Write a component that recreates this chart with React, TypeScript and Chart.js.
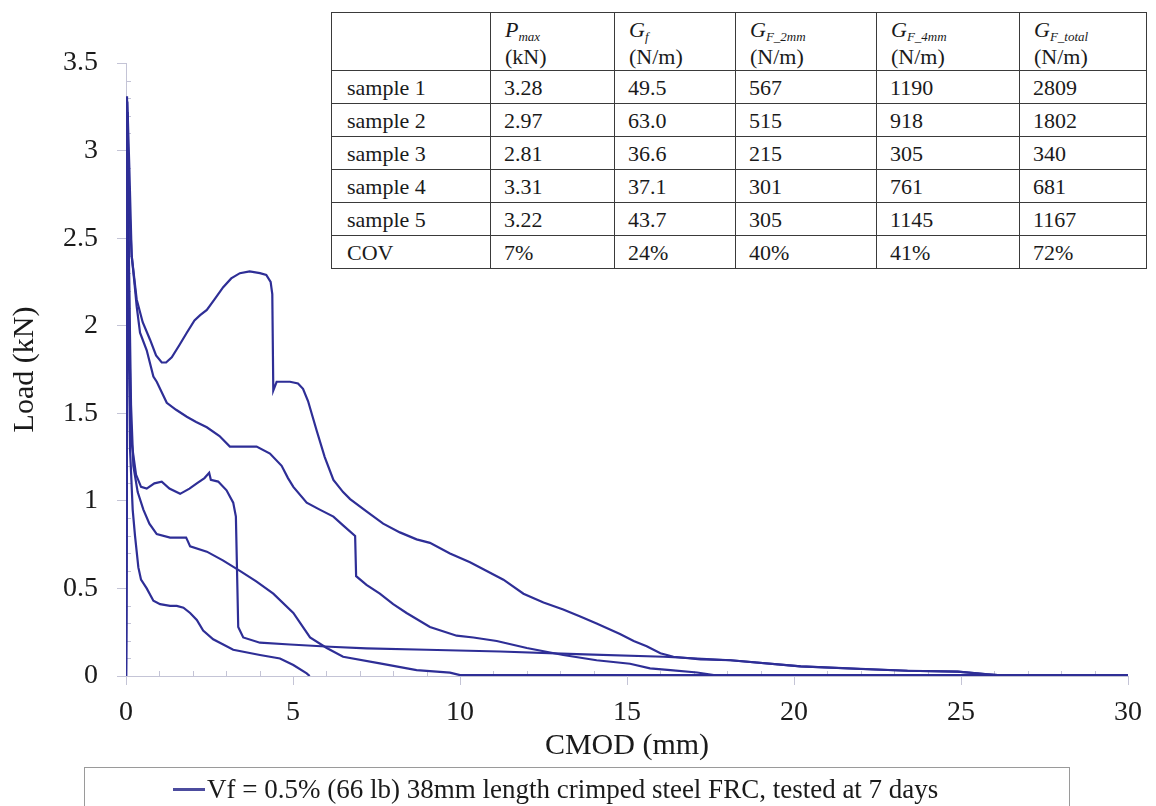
import React, { useEffect, useRef } from "react";
import { Chart, registerables } from "chart.js";

Chart.register(...registerables);

// ---------- data (CMOD in mm, load in kN) ----------
const sample1X = [0, 0.04, 0.1, 0.17, 0.32, 0.5, 0.72, 0.9, 1.07, 1.2, 1.37, 1.6, 1.82, 2.05, 2.22, 2.42, 2.65, 2.91, 3.15, 3.41, 3.7, 4.01, 4.2, 4.33, 4.38, 4.41, 4.51, 4.91, 5.15, 5.3, 5.45, 5.71, 5.95, 6.21, 6.5, 6.71, 7.2, 7.7, 8.2, 8.7, 9.1, 9.7, 10.3, 10.7, 11.3, 11.9, 12.5, 13.09, 13.6, 14.09, 14.79, 15.2, 15.59, 16.0, 16.39, 17.2, 18.1, 20.2, 23.4, 24.9, 25.8, 26.5];
const sample1Y = [0, 3.28, 2.9, 2.4, 2.15, 2.02, 1.92, 1.83, 1.79, 1.79, 1.82, 1.89, 1.96, 2.03, 2.06, 2.09, 2.15, 2.22, 2.27, 2.3, 2.31, 2.3, 2.29, 2.25, 2.18, 1.63, 1.68, 1.68, 1.67, 1.64, 1.57, 1.4, 1.25, 1.12, 1.05, 1.01, 0.94, 0.87, 0.82, 0.78, 0.76, 0.7, 0.65, 0.61, 0.55, 0.47, 0.42, 0.38, 0.34, 0.3, 0.24, 0.2, 0.17, 0.13, 0.11, 0.095, 0.09, 0.055, 0.03, 0.025, 0.01, 0];

const sample2X = [0, 0.05, 0.12, 0.17, 0.25, 0.32, 0.42, 0.62, 0.82, 0.92, 1.22, 1.5, 1.82, 2.1, 2.42, 2.8, 3.11, 3.5, 3.91, 4.31, 4.66, 4.85, 5.01, 5.41, 5.8, 6.21, 6.5, 6.86, 6.89, 7.2, 7.6, 8.0, 8.4, 9.1, 9.9, 10.4, 11.1, 12.0, 13.09, 14.09, 15.09, 15.69, 16.3, 17.1, 17.8];
const sample2Y = [0, 2.97, 2.6, 2.4, 2.25, 2.11, 1.96, 1.86, 1.71, 1.68, 1.56, 1.52, 1.48, 1.45, 1.42, 1.37, 1.31, 1.31, 1.31, 1.27, 1.2, 1.13, 1.08, 0.99, 0.95, 0.91, 0.86, 0.8, 0.57, 0.52, 0.47, 0.41, 0.36, 0.28, 0.23, 0.22, 0.2, 0.16, 0.12, 0.09, 0.07, 0.044, 0.034, 0.02, 0];

const sample3X = [0, 0.05, 0.09, 0.12, 0.2, 0.27, 0.37, 0.45, 0.62, 0.82, 1.02, 1.32, 1.52, 1.72, 1.92, 2.12, 2.31, 2.61, 2.81, 3.21, 4.01, 4.61, 5.01, 5.41, 5.5];
const sample3Y = [0, 2.81, 1.9, 1.3, 0.95, 0.8, 0.62, 0.55, 0.5, 0.43, 0.41, 0.4, 0.4, 0.39, 0.36, 0.32, 0.26, 0.21, 0.19, 0.15, 0.12, 0.1, 0.063, 0.015, 0];

const sample4X = [0, 0.03, 0.1, 0.15, 0.22, 0.35, 0.52, 0.7, 0.92, 1.32, 1.8, 1.85, 1.92, 2.42, 2.9, 3.41, 3.9, 4.41, 5.01, 5.51, 6.01, 6.5, 7.6, 8.7, 9.7, 10.0, 30];
const sample4Y = [0, 3.31, 2.2, 1.55, 1.2, 1.05, 0.95, 0.87, 0.81, 0.79, 0.79, 0.77, 0.74, 0.71, 0.66, 0.6, 0.54, 0.47, 0.36, 0.22, 0.16, 0.11, 0.072, 0.034, 0.019, 0.005, 0.005];

const sample5X = [0, 0.05, 0.1, 0.14, 0.17, 0.3, 0.45, 0.62, 0.85, 1.07, 1.3, 1.62, 1.9, 2.12, 2.35, 2.49, 2.54, 2.76, 3.01, 3.21, 3.29, 3.36, 3.51, 4.01, 4.91, 6.11, 7.2, 9.0, 11.2, 13.5, 16.1, 18.1, 20.2, 22.0, 23.4, 24.9, 25.8, 26.5];
const sample5Y = [0, 3.22, 2.0, 1.45, 1.33, 1.15, 1.08, 1.07, 1.1, 1.11, 1.07, 1.04, 1.07, 1.1, 1.13, 1.16, 1.12, 1.11, 1.06, 0.99, 0.91, 0.28, 0.22, 0.19, 0.18, 0.167, 0.158, 0.15, 0.14, 0.125, 0.11, 0.09, 0.055, 0.04, 0.03, 0.025, 0.01, 0];

const sampleNames = ["sample 1", "sample 2", "sample 3", "sample 4", "sample 5"];
const legendLabel = "Vf = 0.5% (66 lb) 38mm length crimped steel FRC, tested at 7 days";
const xTitle = "CMOD (mm)";
const yTitle = "Load (kN)";

// table values
const tableRowLabels = ["sample 1", "sample 2", "sample 3", "sample 4", "sample 5", "COV"];
const pmaxCol = ["3.28", "2.97", "2.81", "3.31", "3.22", "7%"];
const gfCol = ["49.5", "63.0", "36.6", "37.1", "43.7", "24%"];
const gf2Col = ["567", "515", "215", "301", "305", "40%"];
const gf4Col = ["1190", "918", "305", "761", "1145", "41%"];
const gfTotalCol = ["2809", "1802", "340", "681", "1167", "72%"];

// ---------- styles ----------
const SERIF = '"Liberation Serif", "Times New Roman", serif';
const LINE_COLOR = "#2e2e96";
const AXIS_COLOR = "#c4c4d6";
const TEXT_COLOR = "#1a1a1a";
const colWidths = [159, 124, 121, 141, 143, 127];

function HeaderCell({ main, sub, unit }: { main: string; sub: string; unit: string }) {
  return (
    <div>
      <div style={{ height: 27 }}>
        <i>{main}</i>
        <i style={{ fontSize: 13, position: "relative", top: 4 }}>{sub}</i>
      </div>
      <div style={{ height: 27 }}>{unit}</div>
    </div>
  );
}

export default function App() {
  const ref = useRef<HTMLCanvasElement>(null);

  useEffect(() => {
    if (!ref.current) return;
    const pairs = [
      [sample1X, sample1Y],
      [sample2X, sample2Y],
      [sample3X, sample3Y],
      [sample4X, sample4Y],
      [sample5X, sample5Y],
    ];
    const datasets = pairs.map(([xs, ys], i) => ({
      label: sampleNames[i],
      data: xs.map((x, j) => ({ x, y: ys[j] })),
      borderColor: LINE_COLOR,
      backgroundColor: LINE_COLOR,
      borderWidth: 2.2,
      pointRadius: 0,
      tension: 0,
      fill: false,
    }));

    const minorTicks = {
      id: "minorTicks",
      beforeDatasetsDraw(chart: any) {
        const { ctx } = chart;
        const x = chart.scales.x;
        const y = chart.scales.y;
        ctx.save();
        ctx.strokeStyle = AXIS_COLOR;
        ctx.lineWidth = 1;
        ctx.beginPath();
        for (let v = 0; v <= 30; v += 1) {
          if (v % 5 === 0) continue;
          const px = Math.round(x.getPixelForValue(v)) + 0.5;
          ctx.moveTo(px, y.bottom);
          ctx.lineTo(px, y.bottom - 5);
        }
        for (let k = 0; k <= 35; k++) {
          if (k % 5 === 0) continue;
          const py = Math.round(y.getPixelForValue(k / 10)) + 0.5;
          ctx.moveTo(x.left, py);
          ctx.lineTo(x.left + 5, py);
        }
        ctx.stroke();
        ctx.restore();
      },
    };

    const chart = new Chart(ref.current, {
      type: "line",
      data: { datasets },
      options: {
        animation: false,
        responsive: false,
        devicePixelRatio: 1,
        layout: { padding: { left: 7, top: 63, right: 28, bottom: 42 } },
        plugins: { legend: { display: false }, tooltip: { enabled: false } },
        scales: {
          x: {
            type: "linear",
            min: 0,
            max: 30,
            ticks: {
              stepSize: 5,
              color: TEXT_COLOR,
              font: { family: SERIF, size: 28 },
              padding: 11,
              maxRotation: 0,
              callback: (v: any) => String(Number(v)),
            },
            grid: { drawOnChartArea: false, tickLength: 9, color: AXIS_COLOR },
            border: { color: AXIS_COLOR, width: 1 },
            title: {
              display: true,
              text: xTitle,
              color: TEXT_COLOR,
              font: { family: SERIF, size: 30 },
              padding: { top: 0, bottom: 0 },
            },
            afterFit(s: any) {
              s.height = 88;
            },
          },
          y: {
            type: "linear",
            min: 0,
            max: 3.5,
            ticks: {
              stepSize: 0.5,
              color: TEXT_COLOR,
              font: { family: SERIF, size: 28 },
              padding: 19,
              callback: (v: any) => String(Number(v)),
            },
            grid: { drawOnChartArea: false, tickLength: 9, color: AXIS_COLOR },
            border: { color: AXIS_COLOR, width: 1 },
            title: {
              display: true,
              text: yTitle,
              color: TEXT_COLOR,
              font: { family: SERIF, size: 30 },
              padding: { top: 0, bottom: 0 },
            },
            afterFit(s: any) {
              s.width = 119;
            },
          },
        },
      },
      plugins: [minorTicks],
    } as any);
    return () => chart.destroy();
  }, []);

  const headers = [
    { main: "P", sub: "max", unit: "(kN)" },
    { main: "G", sub: "f", unit: "(N/m)" },
    { main: "G", sub: "F_2mm", unit: "(N/m)" },
    { main: "G", sub: "F_4mm", unit: "(N/m)" },
    { main: "G", sub: "F_total", unit: "(N/m)" },
  ];
  const cols = [pmaxCol, gfCol, gf2Col, gf4Col, gfTotalCol];
  const cellBase: React.CSSProperties = {
    border: "1px solid #3a3a3a",
    padding: "0 0 0 15px",
    textAlign: "left",
    overflow: "hidden",
    whiteSpace: "nowrap",
  };

  return (
    <div
      style={{
        position: "fixed",
        left: 0,
        top: 0,
        width: 1156,
        height: 806,
        background: "#fff",
        overflow: "hidden",
        fontFamily: SERIF,
        color: TEXT_COLOR,
      }}
    >
      <canvas ref={ref} width={1156} height={806} style={{ position: "absolute", left: 0, top: 0 }} />
      <table
        style={{
          position: "absolute",
          left: 331,
          top: 12,
          borderCollapse: "collapse",
          tableLayout: "fixed",
          background: "#fff",
          fontSize: 22,
          width: colWidths.reduce((a, b) => a + b, 0),
        }}
      >
        <colgroup>
          {colWidths.map((w, i) => (
            <col key={i} style={{ width: w }} />
          ))}
        </colgroup>
        <tbody>
          <tr style={{ height: 58 }}>
            <td style={{ ...cellBase }} />
            {headers.map((h, i) => (
              <td key={i} style={{ ...cellBase, verticalAlign: "top", paddingTop: 3, lineHeight: "27px", paddingLeft: 14 }}>
                <HeaderCell main={h.main} sub={h.sub} unit={h.unit} />
              </td>
            ))}
          </tr>
          {tableRowLabels.map((lab, r) => (
            <tr key={r} style={{ height: 33 }}>
              <td style={{ ...cellBase, lineHeight: "31px" }}>{lab}</td>
              {cols.map((c, i) => (
                <td key={i} style={{ ...cellBase, lineHeight: "31px", paddingLeft: 13 }}>
                  {c[r]}
                </td>
              ))}
            </tr>
          ))}
        </tbody>
      </table>
      <div
        style={{
          position: "absolute",
          left: 84,
          top: 767,
          width: 986,
          height: 60,
          border: "1px solid #9a9a9a",
          boxSizing: "border-box",
        }}
      >
        <div
          style={{
            position: "absolute",
            left: 88,
            top: 20,
            width: 32,
            height: 2.5,
            background: "#4c4c9e",
          }}
        />
        <div
          style={{
            position: "absolute",
            left: 122,
            top: 4,
            fontSize: 27,
            lineHeight: "34px",
            whiteSpace: "nowrap",
          }}
        >
          {legendLabel}
        </div>
      </div>
    </div>
  );
}
